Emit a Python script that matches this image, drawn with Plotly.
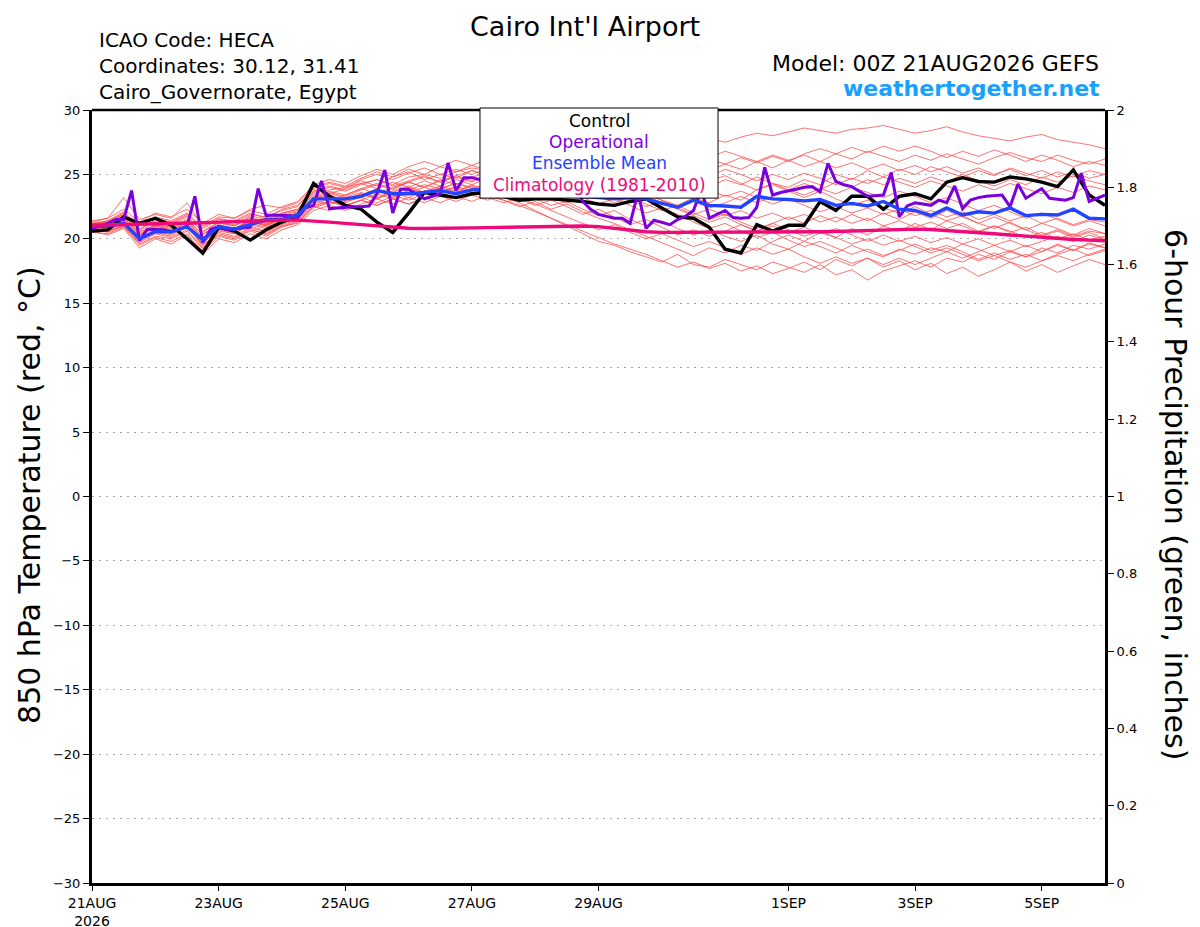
import pandas as pd
import plotly.graph_objects as go

# ### Data (850 hPa temperature, deg C)

# ensemble members, 6-hourly from 00Z 21AUG2026 (65 steps)
m01 = [21.0, 21.2, 21.8, 20.6, 21.3, 21.0, 21.5, 20.3, 21.2, 21.0, 21.6, 21.2, 21.8,
       22.1, 23.5, 23.8, 24.0, 24.3, 24.6, 24.2, 24.8, 25.0, 24.7, 25.2, 25.5, 25.3,
       25.8, 26.0, 25.6, 26.2, 26.5, 26.1, 26.6, 26.8, 26.4, 26.9, 27.2, 27.0, 27.4,
       27.8, 27.5, 27.9, 28.2, 28.0, 28.3, 28.6, 28.4, 28.2, 28.5, 28.6, 28.8, 28.5,
       28.2, 28.4, 28.7, 28.3, 28.0, 27.8, 27.6, 27.9, 28.1, 27.7, 27.5, 27.3, 27.0]
m02 = [20.8, 20.5, 21.0, 19.6, 20.2, 20.0, 20.6, 19.2, 20.4, 20.1, 20.8, 20.3, 21.0,
       21.2, 22.4, 22.8, 23.0, 23.4, 23.9, 23.2, 23.8, 24.2, 23.9, 24.3, 24.0, 23.6,
       23.2, 22.8, 22.2, 21.6, 21.0, 20.4, 19.8, 19.5, 19.0, 18.6, 18.2, 18.8, 18.0,
       17.8, 18.4, 18.0, 17.6, 18.2, 17.8, 17.4, 18.0, 17.2, 17.6, 16.8, 17.5, 17.9,
       18.3, 17.8, 18.5, 18.2, 18.8, 18.4, 19.0, 18.6, 19.3, 18.9, 19.5, 19.2, 19.6]
m03 = [21.2, 21.4, 22.0, 21.0, 21.6, 21.3, 21.9, 20.8, 21.5, 21.4, 22.0, 21.6, 22.3,
       22.6, 23.8, 23.5, 23.9, 24.5, 24.1, 24.8, 25.2, 24.6, 25.0, 24.7, 25.3, 24.9,
       25.4, 25.0, 24.6, 24.9, 24.3, 24.6, 24.0, 23.6, 24.1, 23.5, 23.0, 22.6, 23.2,
       22.8, 23.4, 23.0, 23.8, 24.3, 24.0, 24.6, 24.2, 25.0, 24.6, 25.3, 24.8, 25.4,
       25.0, 25.6, 25.2, 24.8, 25.3, 24.9, 25.5, 25.1, 24.7, 25.2, 24.8, 25.3, 25.0]
m04 = [20.6, 20.9, 21.3, 19.9, 20.7, 20.5, 21.0, 19.4, 20.6, 20.4, 21.2, 20.9, 21.5,
       21.8, 23.0, 22.7, 22.9, 23.2, 22.8, 23.3, 23.7, 23.2, 23.6, 24.0, 23.5, 23.9,
       23.4, 23.8, 23.1, 22.6, 22.9, 22.3, 21.8, 22.2, 21.5, 21.0, 21.4, 20.8, 20.3,
       20.7, 20.2, 19.8, 20.3, 19.6, 19.2, 19.8, 19.4, 18.9, 19.5, 19.0, 18.6, 19.2,
       18.8, 19.3, 19.0, 19.6, 19.2, 18.7, 19.1, 18.6, 19.0, 19.5, 19.1, 19.6, 19.3]
m05 = [21.1, 21.0, 21.6, 20.3, 21.0, 20.7, 21.2, 20.0, 20.9, 20.6, 21.3, 21.0, 21.6,
       21.9, 23.2, 23.6, 23.3, 23.8, 24.2, 23.8, 24.4, 24.0, 24.6, 24.2, 24.8, 25.1,
       24.7, 25.2, 24.8, 25.3, 25.7, 25.2, 25.8, 25.4, 25.0, 25.5, 25.1, 24.6, 25.0,
       24.5, 24.9, 24.3, 23.8, 24.2, 23.7, 23.2, 23.7, 23.1, 22.6, 23.0, 22.4, 22.0,
       22.5, 21.9, 21.4, 21.8, 21.2, 20.8, 21.3, 20.7, 20.2, 20.6, 20.1, 20.5, 20.0]
m06 = [20.9, 20.6, 21.1, 19.8, 20.5, 20.2, 20.9, 19.6, 20.8, 20.5, 21.0, 20.6, 21.2,
       21.6, 22.7, 23.1, 22.8, 23.3, 23.7, 23.4, 23.0, 23.5, 23.9, 23.4, 23.8, 23.3,
       23.0, 22.5, 22.9, 22.3, 22.7, 22.1, 21.6, 21.2, 20.7, 20.2, 19.7, 19.2, 18.7,
       19.3, 18.9, 19.5, 19.1, 19.8, 20.3, 19.8, 20.5, 20.1, 20.8, 20.3, 21.0, 20.6,
       21.2, 20.7, 21.4, 21.0, 20.5, 21.0, 20.6, 20.1, 20.5, 20.0, 20.4, 19.9, 20.2]
m07 = [21.3, 21.6, 23.2, 21.5, 21.9, 21.6, 22.8, 21.0, 21.7, 21.6, 22.3, 22.6, 22.4,
       22.8, 24.0, 24.4, 24.1, 24.7, 25.2, 24.8, 25.4, 25.0, 25.6, 25.2, 25.7, 25.3,
       25.8, 26.2, 25.7, 26.0, 25.6, 26.1, 25.6, 25.2, 25.6, 25.1, 24.7, 25.2, 24.8,
       25.3, 25.8, 25.4, 26.0, 25.5, 26.1, 26.5, 26.0, 26.6, 26.2, 26.8, 26.4, 26.0,
       26.5, 26.1, 26.6, 26.2, 25.8, 26.3, 26.7, 26.3, 26.0, 26.5, 26.1, 25.8, 26.2]
m08 = [20.7, 20.8, 21.4, 20.2, 20.9, 20.6, 21.1, 19.8, 21.0, 20.7, 21.4, 21.1, 21.7,
       22.0, 23.1, 23.5, 23.2, 23.6, 23.2, 23.7, 24.1, 23.6, 24.0, 23.6, 24.1, 23.7,
       24.2, 23.8, 24.3, 23.8, 23.4, 23.8, 23.3, 22.8, 23.2, 22.7, 22.2, 22.6, 22.0,
       21.5, 21.9, 21.3, 20.8, 21.2, 20.7, 20.2, 20.6, 20.1, 19.6, 20.0, 19.5, 19.9,
       19.4, 18.9, 19.3, 18.8, 18.3, 18.7, 18.2, 17.8, 18.3, 18.7, 18.3, 18.8, 19.2]
m09 = [21.0, 21.3, 21.9, 20.8, 21.4, 21.1, 21.7, 20.6, 21.3, 21.1, 21.8, 21.5, 22.0,
       22.3, 23.6, 24.0, 23.7, 24.2, 24.6, 24.1, 24.5, 24.9, 24.4, 24.8, 24.4, 24.9,
       24.5, 25.0, 24.6, 25.1, 24.7, 24.2, 24.7, 24.3, 24.8, 24.4, 25.0, 24.6, 25.2,
       24.8, 25.4, 25.0, 24.5, 25.0, 24.6, 25.1, 24.7, 24.2, 24.7, 24.3, 24.8, 24.4,
       24.0, 24.5, 24.1, 23.7, 24.2, 23.8, 24.3, 23.9, 23.5, 24.0, 23.6, 24.1, 23.8]
m10 = [20.8, 20.7, 21.2, 19.9, 20.6, 20.3, 21.0, 19.7, 20.7, 20.4, 21.1, 20.8, 21.4,
       21.7, 22.9, 23.3, 23.0, 23.5, 23.1, 23.6, 23.2, 23.7, 24.1, 23.7, 24.2, 23.8,
       24.3, 23.9, 23.4, 23.8, 23.3, 23.7, 23.2, 23.6, 23.0, 22.5, 22.9, 22.4, 21.9,
       22.3, 21.8, 22.2, 21.6, 22.0, 21.5, 21.9, 21.3, 21.7, 21.2, 21.6, 21.0, 21.4,
       20.9, 21.3, 20.8, 21.2, 20.6, 21.0, 20.5, 20.9, 20.3, 20.7, 20.2, 20.6, 20.4]
m11 = [21.2, 21.1, 21.7, 20.4, 21.1, 20.8, 21.4, 20.1, 21.1, 20.8, 21.5, 21.2, 21.9,
       22.2, 23.4, 23.0, 23.4, 23.9, 23.5, 24.0, 24.4, 24.0, 24.5, 24.9, 24.5, 25.0,
       24.6, 25.1, 24.7, 25.2, 24.8, 25.3, 24.9, 24.4, 24.0, 23.5, 23.0, 22.5, 22.9,
       22.4, 22.8, 23.3, 22.8, 23.3, 23.8, 23.4, 23.9, 23.5, 24.0, 23.6, 23.2, 23.7,
       23.3, 22.8, 23.2, 22.7, 22.2, 22.6, 22.1, 21.6, 22.0, 21.5, 21.0, 21.4, 21.0]
m12 = [20.9, 21.0, 21.5, 20.0, 20.8, 20.4, 21.0, 19.5, 20.5, 20.2, 20.9, 20.5, 21.1,
       21.5, 22.6, 22.9, 22.6, 23.0, 22.6, 23.1, 22.7, 23.2, 22.8, 23.3, 22.9, 23.4,
       23.0, 22.6, 22.1, 21.6, 21.1, 20.6, 20.1, 19.6, 19.2, 18.8, 18.3, 17.8, 18.2,
       17.7, 18.1, 17.5, 17.9, 17.3, 17.7, 18.2, 17.6, 18.4, 17.9, 18.5, 17.8, 18.3,
       17.6, 18.1, 17.3, 17.8, 17.1, 17.6, 18.2, 17.5, 18.0, 17.4, 17.9, 18.4, 18.0]
m13 = [21.1, 21.4, 22.1, 21.0, 21.7, 21.4, 22.0, 20.9, 21.6, 21.3, 21.9, 21.7, 22.2,
       22.5, 23.9, 24.3, 24.0, 24.6, 25.0, 24.6, 25.1, 25.5, 25.0, 25.4, 25.0, 25.5,
       25.1, 25.6, 25.1, 24.6, 25.0, 24.5, 24.0, 23.5, 23.0, 23.4, 22.8, 22.3, 21.8,
       21.3, 21.7, 21.1, 20.6, 21.0, 20.5, 20.9, 20.4, 20.8, 20.3, 19.8, 20.3, 19.8,
       20.2, 19.7, 20.1, 19.6, 20.0, 19.5, 19.9, 19.4, 19.8, 20.2, 19.8, 20.3, 19.9]
m14 = [20.5, 20.4, 20.9, 19.5, 20.1, 19.8, 20.4, 19.0, 20.2, 19.9, 20.6, 20.2, 20.9,
       21.3, 22.5, 22.9, 22.5, 23.0, 23.5, 23.1, 23.6, 24.0, 23.6, 24.1, 23.7, 24.2,
       23.8, 24.3, 23.9, 24.4, 24.0, 24.5, 24.1, 23.6, 24.1, 23.7, 24.2, 23.8, 24.4,
       24.0, 24.6, 24.2, 24.8, 24.3, 23.8, 24.3, 23.8, 24.4, 24.0, 24.6, 24.2, 24.7,
       24.3, 24.8, 24.4, 25.0, 24.5, 24.1, 24.6, 24.2, 24.8, 24.4, 24.9, 24.5, 24.2]
m15 = [21.4, 21.6, 22.3, 21.3, 22.0, 21.7, 22.3, 21.2, 21.9, 21.6, 22.2, 21.9, 22.5,
       22.9, 24.2, 24.6, 24.3, 24.9, 25.4, 25.0, 25.6, 26.0, 25.6, 26.1, 25.7, 26.2,
       25.8, 26.3, 25.8, 26.2, 25.7, 25.2, 25.6, 25.1, 24.6, 25.0, 24.4, 23.9, 24.3,
       23.8, 23.3, 23.7, 23.2, 22.7, 23.1, 22.6, 22.1, 22.5, 22.0, 22.4, 21.9, 22.3,
       21.8, 22.2, 21.7, 22.1, 21.5, 21.9, 21.4, 21.8, 21.2, 21.6, 21.1, 21.5, 21.3]
m16 = [20.7, 20.6, 21.0, 19.7, 20.4, 20.1, 20.7, 19.3, 20.3, 20.0, 20.7, 20.4, 21.0,
       21.4, 22.5, 22.2, 22.6, 23.0, 22.6, 23.1, 22.7, 23.2, 23.6, 23.2, 23.6, 23.2,
       22.8, 23.2, 22.7, 22.2, 21.7, 21.2, 20.7, 21.1, 20.5, 20.0, 20.4, 19.9, 19.4,
       19.8, 19.3, 18.8, 19.3, 18.8, 19.2, 18.6, 18.1, 18.6, 18.1, 18.5, 18.0, 18.5,
       18.0, 18.5, 19.0, 18.5, 19.0, 19.5, 19.0, 19.5, 19.0, 19.6, 19.1, 19.7, 19.3]
m17 = [21.0, 20.9, 21.5, 20.3, 21.0, 20.7, 21.3, 20.1, 21.0, 20.7, 21.4, 21.1, 21.6,
       22.0, 23.3, 23.7, 23.4, 23.9, 24.3, 23.9, 24.4, 24.8, 24.4, 24.9, 25.3, 24.9,
       25.4, 25.8, 25.4, 25.9, 25.5, 26.0, 26.4, 26.0, 26.5, 26.1, 26.6, 26.2, 26.7,
       26.3, 26.8, 26.4, 26.0, 26.5, 26.1, 25.6, 26.0, 25.5, 25.9, 25.4, 25.8, 25.3,
       25.7, 25.2, 25.6, 25.1, 25.5, 25.0, 25.4, 24.9, 25.3, 24.8, 25.2, 24.7, 25.0]
m18 = [20.8, 21.1, 21.6, 20.5, 21.1, 20.9, 21.4, 20.4, 21.0, 20.8, 21.4, 21.0, 21.6,
       22.0, 23.0, 23.4, 23.0, 23.5, 23.1, 23.6, 24.0, 23.5, 23.9, 24.3, 23.9, 24.3,
       23.9, 23.4, 23.8, 23.3, 22.8, 23.2, 22.7, 23.1, 22.6, 22.0, 22.4, 21.9, 21.3,
       20.8, 21.2, 20.6, 20.1, 20.5, 19.9, 19.4, 19.8, 19.3, 18.8, 19.2, 18.7, 19.1,
       19.6, 19.1, 19.5, 19.0, 18.4, 18.9, 18.4, 18.8, 18.3, 18.8, 19.2, 18.7, 19.1]
m19 = [21.2, 21.3, 21.9, 20.7, 21.5, 21.2, 21.8, 20.5, 21.3, 21.0, 21.7, 21.3, 22.0,
       22.3, 23.7, 24.1, 23.8, 24.3, 23.9, 24.4, 24.0, 24.5, 24.1, 24.6, 24.2, 24.7,
       24.3, 24.8, 24.4, 24.9, 25.3, 24.9, 25.4, 25.0, 25.5, 26.0, 25.6, 26.1, 25.7,
       26.2, 25.8, 26.3, 25.9, 26.4, 26.0, 26.6, 27.0, 26.6, 27.1, 26.7, 27.2, 26.8,
       27.2, 26.8, 26.3, 26.8, 26.4, 26.9, 26.5, 26.0, 26.5, 26.1, 25.6, 26.0, 25.7]
m20 = [20.6, 20.3, 20.8, 19.3, 20.0, 19.6, 20.3, 18.8, 20.0, 19.7, 20.4, 20.0, 20.7,
       21.1, 22.2, 22.6, 22.2, 22.7, 23.1, 22.7, 23.2, 22.8, 23.3, 22.9, 23.4, 23.0,
       23.5, 23.1, 22.6, 23.0, 22.5, 21.9, 22.3, 21.7, 21.1, 21.5, 20.9, 20.3, 20.7,
       20.2, 20.6, 21.1, 20.6, 21.2, 21.7, 21.2, 21.8, 21.3, 21.9, 21.4, 22.0, 21.5,
       22.1, 21.6, 22.2, 21.7, 21.2, 21.7, 21.2, 20.7, 21.2, 20.8, 20.3, 20.8, 20.4]
members = [m01, m02, m03, m04, m05, m06, m07, m08, m09, m10,
           m11, m12, m13, m14, m15, m16, m17, m18, m19, m20]

control = [20.6, 20.7, 21.7, 21.2, 21.6, 21.05, 20.0, 18.9, 20.9, 20.6, 19.9, 20.7, 21.3,
           21.8, 24.3, 23.3, 22.6, 22.3, 21.3, 20.5, 22.0, 23.6, 23.4, 23.2, 23.5, 23.6,
           23.3, 23.0, 23.1, 23.1, 23.0, 22.9, 22.7, 22.6, 22.9, 23.1, 22.4, 21.7, 21.6,
           20.9, 19.2, 18.9, 21.1, 20.6, 21.05, 21.05, 22.9, 22.2, 23.3, 23.3, 22.3, 23.3,
           23.5, 23.1, 24.4, 24.75, 24.45, 24.4, 24.8, 24.65, 24.4, 24.05, 25.35, 23.4, 22.6]

ens_mean = [20.95, 21.0, 21.2, 20.0, 20.55, 20.55, 20.95, 19.9, 20.95, 20.75, 21.1, 21.5, 21.5,
            21.85, 23.1, 23.1, 23.1, 23.3, 23.75, 23.5, 23.5, 23.6, 23.75, 23.5, 23.8, 23.85,
            23.7, 23.6, 23.6, 23.5, 23.4, 23.3, 23.2, 23.1, 23.2, 23.1, 22.75, 22.45, 23.0,
            22.6, 22.55, 22.45, 23.3, 23.1, 23.05, 22.95, 23.05, 22.6, 22.75, 22.55, 22.9, 22.3,
            22.2, 21.8, 22.4, 21.85, 22.1, 22.0, 22.4, 21.8, 21.9, 21.85, 22.3, 21.6, 21.55]

climo = [21.05, 21.07, 21.1, 21.12, 21.15, 21.17, 21.2, 21.25, 21.3, 21.35, 21.4, 21.43, 21.45,
         21.45, 21.4, 21.3, 21.2, 21.1, 21.0, 20.9, 20.82, 20.8, 20.8, 20.82, 20.85, 20.87,
         20.9, 20.92, 20.95, 20.97, 21.0, 21.0, 20.95, 20.8, 20.65, 20.55, 20.5, 20.5, 20.5,
         20.5, 20.5, 20.5, 20.5, 20.5, 20.5, 20.52, 20.55, 20.57, 20.6, 20.65, 20.7, 20.72,
         20.75, 20.72, 20.65, 20.55, 20.45, 20.4, 20.3, 20.2, 20.1, 20.05, 19.95, 19.9, 19.85]

# operational run is 3-hourly (129 steps)
operational = [20.8, 21.0, 21.2, 21.5, 21.5, 23.75, 19.85, 20.75, 20.75,
               20.7, 20.55, 20.75, 20.95, 23.3, 19.7, 20.75, 20.95,
               20.7, 20.75, 20.8, 20.9, 23.9, 21.8, 21.85, 21.85,
               21.8, 21.65, 22.4, 22.6, 24.5, 22.35, 22.4, 22.5,
               22.5, 22.5, 22.55, 23.5, 25.35, 22.0, 23.85, 23.85,
               23.5, 23.1, 23.3, 23.5, 25.9, 23.75, 24.75, 24.75,
               24.6, 24.3, 24.2, 24.4, 25.3, 24.0, 23.9, 23.8,
               23.6, 23.5, 23.4, 23.4, 24.3, 22.9, 22.3, 21.9,
               21.75, 21.6, 21.6, 21.2, 23.6, 20.8, 21.45, 21.3,
               21.1, 21.5, 21.75, 22.2, 23.85, 21.6, 21.9, 22.2,
               21.65, 21.6, 21.65, 22.45, 25.55, 23.4, 23.6, 23.7,
               23.85, 24.0, 24.05, 23.65, 25.85, 24.45, 24.2, 24.05,
               23.7, 23.3, 23.35, 23.4, 25.15, 21.7, 22.55, 22.8,
               22.7, 22.6, 23.0, 22.8, 24.1, 22.35, 23.0, 23.2,
               23.3, 23.35, 23.4, 22.5, 24.25, 23.15, 23.5, 23.9,
               23.15, 23.1, 23.0, 23.2, 25.1, 22.9, 23.15, 23.4]

tick_dates = ['2026-08-21', '2026-08-23', '2026-08-25', '2026-08-27',
              '2026-08-29', '2026-09-01', '2026-09-03', '2026-09-05']
tick_text = ['21AUG<br>2026', '23AUG', '25AUG', '27AUG', '29AUG', '1SEP', '3SEP', '5SEP']

legend_names = ['Control', 'Operational', 'Ensemble Mean', 'Climatology (1981-2010)']
legend_colors = ['#000000', '#7a00dd', '#2244ff', '#ee0a7a']

times_6h = pd.date_range('2026-08-21', periods=len(control), freq='6h')
times_3h = pd.date_range('2026-08-21', periods=len(operational), freq='3h')

FONT = 'DejaVu Sans, Liberation Sans, Arial'

fig = go.Figure()

# Add traces
for m in members:
    fig.add_trace(go.Scatter(x=times_6h, y=m, mode='lines', showlegend=False,
                             line=dict(color='rgba(255,70,70,0.85)', width=0.9)))

fig.add_trace(go.Scatter(x=times_6h, y=control, mode='lines', name=legend_names[0],
                         line=dict(color=legend_colors[0], width=3.4)))
fig.add_trace(go.Scatter(x=times_3h, y=operational, mode='lines', name=legend_names[1],
                         line=dict(color=legend_colors[1], width=3)))
fig.add_trace(go.Scatter(x=times_6h, y=ens_mean, mode='lines', name=legend_names[2],
                         line=dict(color=legend_colors[2], width=3.4)))
fig.add_trace(go.Scatter(x=times_6h, y=climo, mode='lines', name=legend_names[3],
                         line=dict(color=legend_colors[3], width=3.4)))

# empty trace so the precipitation axis gets drawn
fig.add_trace(go.Scatter(x=[times_6h[0]], y=[None], yaxis='y2', showlegend=False))

# page has an 8px body margin, so margins are shifted by that
fig.update_layout(
    width=1200, height=927,
    margin=dict(l=84, r=103, t=102, b=52, autoexpand=False),
    paper_bgcolor='white', plot_bgcolor='white',
    showlegend=False,
    font=dict(family=FONT, color='black'),
    xaxis=dict(type='date', range=['2026-08-21', '2026-09-06'],
               tickvals=tick_dates, ticktext=tick_text, automargin=False,
               ticks='outside', ticklen=5, tickcolor='black',
               tickfont=dict(size=14), showgrid=False, zeroline=False,
               showline=True, linecolor='black', linewidth=3),
    yaxis=dict(range=[-30, 30], dtick=5, ticks='outside', ticklen=6, tickcolor='black',
               tickfont=dict(size=13), showgrid=True, gridcolor='#a8a8a8',
               griddash='2px,5px', gridwidth=1.2, zeroline=False, automargin=False,
               showline=True, linecolor='black', linewidth=3),
    yaxis2=dict(range=[0, 2], dtick=0.2, overlaying='y', side='right',
                ticks='outside', ticklen=6, tickcolor='black', tickfont=dict(size=13),
                showgrid=False, zeroline=False, automargin=False,
                showline=True, linecolor='black', linewidth=3),
)

# top border
fig.add_shape(type='line', xref='paper', yref='paper', x0=0, x1=1, y0=1, y1=1,
              line=dict(color='black', width=2.5))

# Header texts
fig.add_annotation(text="Cairo Int'l Airport", xref='paper', yref='paper',
                   x=0.4867, y=1.1074, xanchor='center', yanchor='middle',
                   showarrow=False, font=dict(size=27))
for txt, yy in [('ICAO Code: HECA', 1.0906),
                ('Coordinates: 30.12, 31.41', 1.0569),
                ('Cairo_Governorate, Egypt', 1.0233)]:
    fig.add_annotation(text=txt, xref='paper', yref='paper', x=0.005, y=yy,
                       xanchor='left', yanchor='middle', showarrow=False,
                       font=dict(size=20))
fig.add_annotation(text='Model: 00Z 21AUG2026 GEFS', xref='paper', yref='paper',
                   x=0.996, y=1.0608, xanchor='right', yanchor='middle',
                   showarrow=False, font=dict(size=22))
fig.add_annotation(text='<b>weathertogether.net</b>', xref='paper', yref='paper',
                   x=0.997, y=1.0272, xanchor='right', yanchor='middle',
                   showarrow=False, font=dict(size=22, color='#18a0ff'))

# Axis titles
fig.add_annotation(text='850 hPa Temperature (red, \u00b0C)', xref='paper', yref='paper',
                   x=-0.0612, y=0.502, xanchor='center', yanchor='middle',
                   textangle=-90, showarrow=False, font=dict(size=30))
fig.add_annotation(text='6-hour Precipitation (green, inches)', xref='paper', yref='paper',
                   x=1.069, y=0.502, xanchor='center', yanchor='middle',
                   textangle=90, showarrow=False, font=dict(size=30))

# Legend box
fig.add_shape(type='rect', xref='paper', yref='paper', x0=0.383, x1=0.618,
              y0=0.886, y1=1.0026, fillcolor='white', line=dict(color='black', width=1),
              layer='above')
for name, col, yy in zip(legend_names, legend_colors, [0.986, 0.959, 0.931, 0.903]):
    fig.add_annotation(text=name, xref='paper', yref='paper', x=0.5005, y=yy,
                       xanchor='center', yanchor='middle', showarrow=False,
                       font=dict(size=17, color=col))

fig.write_html("out.html")
